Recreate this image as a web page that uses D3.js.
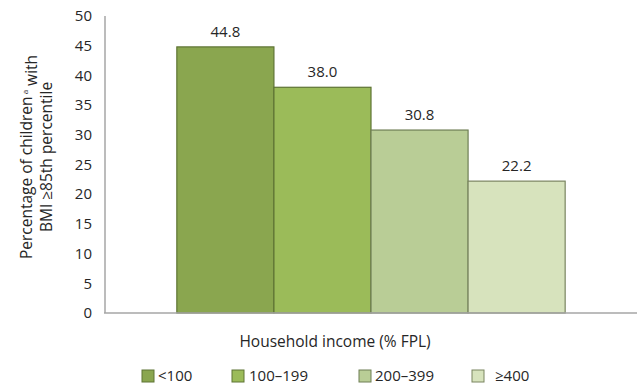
<!DOCTYPE html>
<html>
<head>
<meta charset="utf-8">
<script src="https://cdn.jsdelivr.net/npm/d3@7"></script>
<style>
  body { margin: 0; background: #fff; }
  text { font-family: "Open Sans", "Noto Sans", "Liberation Sans", sans-serif; fill: #262626; }
</style>
</head>
<body>
<svg id="chart" width="640" height="386"></svg>
<script>
// Chart data
const incomeGroups = ['<100', '100–199', '200–399', '≥400']
const percentages = [44.8, 38.0, 30.8, 22.2]
const yTicks = [0, 5, 10, 15, 20, 25, 30, 35, 40, 45, 50]

const fills = ['#8aa64f', '#9bbb59', '#b9cd96', '#d7e3bd']
const strokes = ['#5e7434', '#5e7434', '#6f7f55', '#7a8560']

const svg = d3.select('#chart')
const plot = { left: 105, right: 637, top: 16, bottom: 313 }

const y = d3.scaleLinear().domain([0, 50]).range([plot.bottom, plot.top])
const x = d3.scaleBand()
  .domain(incomeGroups)
  .range([plot.left, plot.right])
  .paddingInner(0)
  .paddingOuter(0.74)

// Y axis line
svg.append('line')
  .attr('x1', plot.left).attr('x2', plot.left)
  .attr('y1', plot.top).attr('y2', plot.bottom)
  .attr('stroke', '#a6a6a6').attr('stroke-width', 1.5)

// Tick labels
svg.selectAll('.ytick')
  .data(yTicks)
  .enter()
  .append('text')
  .attr('x', 92)
  .attr('y', d => y(d))
  .attr('dy', '0.35em')
  .attr('text-anchor', 'end')
  .style('font-size', '15px')
  .text(d => d)

// Bars
svg.selectAll('.bar')
  .data(percentages)
  .enter()
  .append('rect')
  .attr('x', (d, i) => x(incomeGroups[i]))
  .attr('y', d => y(d))
  .attr('width', x.bandwidth())
  .attr('height', d => y(0) - y(d))
  .attr('fill', (d, i) => fills[i])
  .attr('stroke', (d, i) => strokes[i])
  .attr('stroke-width', 1.2)

svg.append('line')
  .attr('x1', plot.left - 1).attr('x2', plot.right)
  .attr('y1', plot.bottom).attr('y2', plot.bottom)
  .attr('stroke', '#a6a6a6').attr('stroke-width', 1.5)

// Value labels
svg.selectAll('.val')
  .data(percentages)
  .enter()
  .append('text')
  .attr('x', (d, i) => x(incomeGroups[i]) + x.bandwidth() / 2)
  .attr('y', d => y(d) - 10)
  .attr('text-anchor', 'middle')
  .style('font-size', '15px')
  .text(d => d.toFixed(1))

// Y axis title
const yTitle = svg.append('g').attr('transform', 'translate(0,157) rotate(-90)')
const line1 = yTitle.append('text')
  .attr('x', 0).attr('y', 27)
  .attr('dy', '0.35em')
  .attr('text-anchor', 'middle')
  .style('font-size', '15.5px')
line1.append('tspan').text('Percentage of children')
line1.append('tspan').attr('dy', '-0.55em').style('font-size', '8px').text(' a')
line1.append('tspan').attr('dy', '0.55em').text(' with')
yTitle.append('text')
  .attr('x', 0).attr('y', 47)
  .attr('dy', '0.35em')
  .attr('text-anchor', 'middle')
  .style('font-size', '15.5px')
  .text('BMI ≥85th percentile')

// X axis title
svg.append('text')
  .attr('x', 335).attr('y', 342)
  .attr('dy', '0.35em')
  .attr('text-anchor', 'middle')
  .style('font-size', '15.5px')
  .text('Household income (% FPL)')

// Legend
const legendX = [142, 232, 359, 472]
const legendTextX = [158, 249, 375, 495]
const legend = svg.selectAll('.leg')
  .data(incomeGroups)
  .enter()
  .append('g')

legend.append('rect')
  .attr('x', (d, i) => legendX[i])
  .attr('y', 370)
  .attr('width', 12).attr('height', 12)
  .attr('fill', (d, i) => fills[i])
  .attr('stroke', (d, i) => strokes[i])
  .attr('stroke-width', 1)

legend.append('text')
  .attr('x', (d, i) => legendTextX[i])
  .attr('y', 376)
  .attr('dy', '0.35em')
  .style('font-size', '15px')
  .text(d => d)
</script>
</body>
</html>
